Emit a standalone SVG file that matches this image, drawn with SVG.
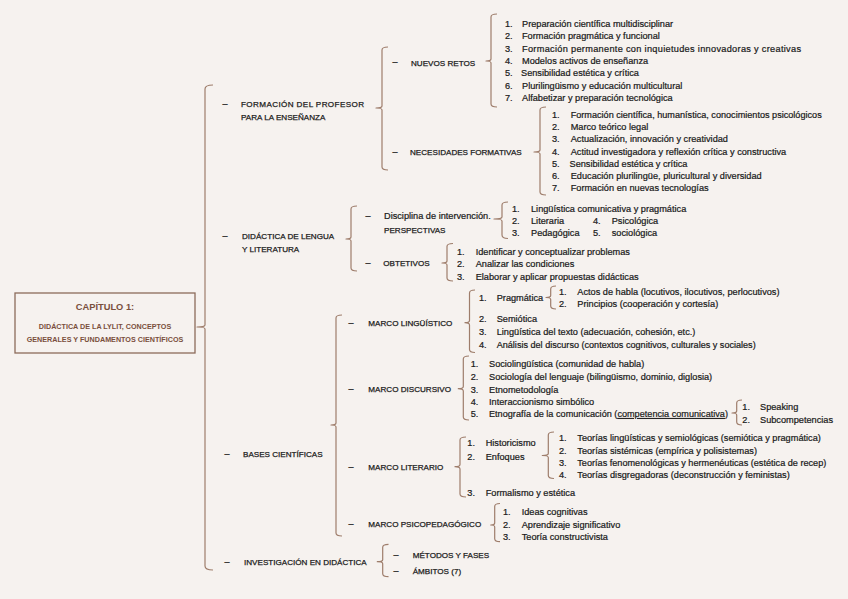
<svg xmlns="http://www.w3.org/2000/svg" width="848" height="599" viewBox="0 0 848 599">
<style>
.br{fill:none;stroke:#9e7d6b;stroke-width:1.2;stroke-linejoin:round}
text{font-family:"Liberation Sans",Arial,sans-serif;fill:#1a1a1a}
.t{font-size:9.2px;stroke:#1a1a1a;stroke-width:0.22}
.u{font-size:8.1px;stroke:#1a1a1a;stroke-width:0.25}
.d{font-size:9px;stroke:#1a1a1a;stroke-width:0.2}
.bx{fill:none;stroke:#8c6b5a;stroke-width:1.3}
.bt{fill:#7a4f3c;font-weight:bold;text-anchor:middle}
</style>
<rect x="0" y="0" width="848" height="599" fill="#f6f2ef"/>

<g id="connectors">
<path class="br" d="M213,85 Q205,85 205,89 V325 Q205,327 197,327 Q205,327 205,329 V566 Q205,570 213,570"/>
<path class="br" d="M388,47 Q382,47 382,50 V106 Q382,108 376,108 Q382,108 382,110 V167 Q382,170 388,170"/>
<path class="br" d="M497,14 Q491,14 491,17 V59 Q491,61 486,61 Q491,61 491,63 V104 Q491,107 497,107"/>
<path class="br" d="M546,107 Q540,107 540,110 V150 Q540,152 534,152 Q540,152 540,154 V192 Q540,195 546,195"/>
<path class="br" d="M357,206 Q351,206 351,209 V237 Q351,239 346,239 Q351,239 351,241 V268 Q351,271 357,271"/>
<path class="br" d="M508,202 Q502,202 502,205 V217 Q502,219 494,219 Q502,219 502,221 V235 Q502,238.5 508,238.5"/>
<path class="br" d="M453,243.5 Q447,243.5 447,246.5 V261 Q447,263 442,263 Q447,263 447,265 V278 Q447,281 453,281"/>
<path class="br" d="M342,315 Q336,315 336,318 V423 Q336,425 331,425 Q336,425 336,427 V533 Q336,536 342,536"/>
<path class="br" d="M475,290 Q469.5,290 469.5,293 V320.5 Q469.5,322.7 465,322.7 Q469.5,322.7 469.5,325 V349.5 Q469.5,352.5 475,352.5"/>
<path class="br" d="M556,286 Q550.7,286 550.7,289 V295.5 Q550.7,297.5 546,297.5 Q550.7,297.5 550.7,299.5 V306 Q550.7,309 556,309"/>
<path class="br" d="M469,356 Q463.3,356 463.3,359 V386.5 Q463.3,388.7 458.3,388.7 Q463.3,388.7 463.3,391 V417 Q463.3,420 469,420"/>
<path class="br" d="M742,400 Q736.7,400 736.7,403 V411 Q736.7,413 732,413 Q736.7,413 736.7,415 V422 Q736.7,425 742,425"/>
<path class="br" d="M466,437 Q460,437 460,440 V464.5 Q460,466.7 455,466.7 Q460,466.7 460,469 V494 Q460,497 466,497"/>
<path class="br" d="M554,432 Q548.3,432 548.3,435 V453.5 Q548.3,455.5 542.3,455.5 Q548.3,455.5 548.3,457.5 V475.5 Q548.3,478.5 554,478.5"/>
<path class="br" d="M500,503.5 Q494.7,503.5 494.7,506.5 V523 Q494.7,525 490.7,525 Q494.7,525 494.7,527 V538.7 Q494.7,541.7 500,541.7"/>
<path class="br" d="M388.5,544.3 Q382.7,544.3 382.7,547.3 V559.7 Q382.7,561.7 377.3,561.7 Q382.7,561.7 382.7,563.7 V573.7 Q382.7,576.7 388.5,576.7"/>
</g>

<g id="capitulo">
<rect class="bx" x="15" y="293" width="180" height="60"/>
<text class="bt" x="105" y="309.5" font-size="9.3px">CAPÍTULO 1:</text>
<text class="bt" x="105" y="329" font-size="7.2px">DIDÁCTICA DE LA LYLIT, CONCEPTOS</text>
<text class="bt" x="105" y="341.5" font-size="7.2px">GENERALES Y FUNDAMENTOS CIENTÍFICOS</text>
</g>

<g id="formacion">
<text class="d" x="222.5" y="106.5">–</text>
<text class="u" x="241" y="107" textLength="123" lengthAdjust="spacing">FORMACIÓN DEL PROFESOR</text>
<text class="u" x="241" y="120">PARA LA ENSEÑANZA</text>
</g>
<g id="nuevos-retos">
<text class="d" x="392.5" y="65">–</text>
<text class="u" x="411" y="65.5">NUEVOS RETOS</text>
</g>
<g id="nuevos-retos-lista">
<text class="t" x="505" y="26.5">1.</text><text class="t" x="522" y="26.5">Preparación científica multidisciplinar</text>
<text class="t" x="505" y="38.5">2.</text><text class="t" x="522" y="38.5">Formación pragmática y funcional</text>
<text class="t" x="505" y="51.5">3.</text><text class="t" x="522" y="51.5" textLength="279" lengthAdjust="spacing">Formación permanente con inquietudes innovadoras y creativas</text>
<text class="t" x="505" y="64">4.</text><text class="t" x="522" y="64">Modelos activos de enseñanza</text>
<text class="t" x="505" y="76">5.</text><text class="t" x="521" y="76">Sensibilidad estética y crítica</text>
<text class="t" x="505" y="88.5">6.</text><text class="t" x="522" y="88.5">Plurilingüismo y educación multicultural</text>
<text class="t" x="505" y="101">7.</text><text class="t" x="522" y="101">Alfabetizar y preparación tecnológica</text>
</g>
<g id="necesidades">
<text class="d" x="392.5" y="155">–</text>
<text class="u" x="410" y="155">NECESIDADES FORMATIVAS</text>
</g>
<g id="necesidades-lista">
<text class="t" x="552" y="118">1.</text><text class="t" x="570.7" y="118" textLength="251" lengthAdjust="spacingAndGlyphs">Formación científica, humanística, conocimientos psicológicos</text>
<text class="t" x="552" y="130">2.</text><text class="t" x="570.7" y="130">Marco teórico legal</text>
<text class="t" x="552" y="142">3.</text><text class="t" x="570.7" y="142">Actualización, innovación y creatividad</text>
<text class="t" x="552" y="155">4.</text><text class="t" x="570.7" y="155">Actitud investigadora y reflexión crítica y constructiva</text>
<text class="t" x="552" y="167">5.</text><text class="t" x="569.5" y="167">Sensibilidad estética y crítica</text>
<text class="t" x="552" y="179">6.</text><text class="t" x="570.7" y="179">Educación plurilingüe, pluricultural y diversidad</text>
<text class="t" x="552" y="191">7.</text><text class="t" x="570.7" y="191">Formación en nuevas tecnologías</text>
</g>

<g id="didactica">
<text class="d" x="222.5" y="238.5">–</text>
<text class="u" x="242" y="239">DIDÁCTICA DE LENGUA</text>
<text class="u" x="242" y="252">Y LITERATURA</text>
</g>
<g id="disciplina">
<text class="d" x="365.5" y="218.5">–</text>
<text class="t" x="384" y="219">Disciplina de  intervención.</text>
<text class="u" x="384" y="232.5">PERSPECTIVAS</text>
</g>
<g id="perspectivas-lista">
<text class="t" x="512" y="211.5">1.</text><text class="t" x="531" y="211.5">Lingüística comunicativa y pragmática</text>
<text class="t" x="512" y="223.5">2.</text><text class="t" x="531" y="223.5">Literaria</text>
<text class="t" x="512" y="236">3.</text><text class="t" x="531" y="236">Pedagógica</text>
<text class="t" x="593" y="223.5">4.</text><text class="t" x="611.7" y="223.5">Psicológica</text>
<text class="t" x="593" y="235.5">5.</text><text class="t" x="611.7" y="235.5">sociológica</text>
</g>
<g id="objetivos">
<text class="d" x="365.5" y="266">–</text>
<text class="u" x="383.3" y="266.3">OBTETIVOS</text>
</g>
<g id="objetivos-lista">
<text class="t" x="457" y="254.5">1.</text><text class="t" x="475.7" y="254.5">Identificar y conceptualizar problemas</text>
<text class="t" x="457" y="266.5">2.</text><text class="t" x="475.7" y="266.5">Analizar las condiciones</text>
<text class="t" x="457" y="280">3.</text><text class="t" x="475.7" y="280">Elaborar y aplicar propuestas didácticas</text>
</g>

<g id="bases">
<text class="d" x="224.5" y="456.5">–</text>
<text class="u" x="243" y="457">BASES CIENTÍFICAS</text>
</g>
<g id="marco-linguistico">
<text class="d" x="348.5" y="325.5">–</text>
<text class="u" x="368.3" y="325.7">MARCO LINGÜÍSTICO</text>
</g>
<g id="linguistico-lista">
<text class="t" x="479" y="300.7">1.</text><text class="t" x="496.7" y="300.7">Pragmática</text>
<text class="t" x="479" y="322.3">2.</text><text class="t" x="496.7" y="322.3">Semiótica</text>
<text class="t" x="479" y="335">3.</text><text class="t" x="496.7" y="335">Lingüística del texto (adecuación, cohesión, etc.)</text>
<text class="t" x="479" y="347.7">4.</text><text class="t" x="496.7" y="347.7" textLength="259" lengthAdjust="spacingAndGlyphs">Análisis del discurso (contextos cognitivos, culturales y sociales)</text>
</g>
<g id="pragmatica-lista">
<text class="t" x="559" y="294.7">1.</text><text class="t" x="577.3" y="294.7">Actos de habla (locutivos, ilocutivos, perlocutivos)</text>
<text class="t" x="559" y="307">2.</text><text class="t" x="577.3" y="307">Principios (cooperación y cortesía)</text>
</g>
<g id="marco-discursivo">
<text class="d" x="348.5" y="391.5">–</text>
<text class="u" x="368.3" y="391.7">MARCO DISCURSIVO</text>
</g>
<g id="discursivo-lista">
<text class="t" x="470.7" y="367.3">1.</text><text class="t" x="489" y="367.3">Sociolingüística (comunidad de habla)</text>
<text class="t" x="470.7" y="380">2.</text><text class="t" x="489" y="380">Sociología del lenguaje (bilingüismo, dominio, diglosia)</text>
<text class="t" x="470.7" y="392.5">3.</text><text class="t" x="489" y="392.5">Etnometodología</text>
<text class="t" x="470.7" y="404.7">4.</text><text class="t" x="489" y="404.7">Interaccionismo simbólico</text>
<text class="t" x="470.7" y="417">5.</text><text class="t" x="489" y="417" textLength="239" lengthAdjust="spacingAndGlyphs">Etnografía de la comunicación (<tspan text-decoration="underline">competencia comunicativa</tspan>)</text>
</g>
<g id="etnografia-lista">
<text class="t" x="742.3" y="410.3">1.</text><text class="t" x="760" y="410.3">Speaking</text>
<text class="t" x="742.3" y="423">2.</text><text class="t" x="760" y="423">Subcompetencias</text>
</g>
<g id="marco-literario">
<text class="d" x="348.5" y="469.5">–</text>
<text class="u" x="368.3" y="469.7">MARCO LITERARIO</text>
</g>
<g id="literario-lista">
<text class="t" x="467.3" y="446.3">1.</text><text class="t" x="485.7" y="446.3">Historicismo</text>
<text class="t" x="467.3" y="459.7">2.</text><text class="t" x="485.7" y="459.7">Enfoques</text>
<text class="t" x="467.3" y="496.3">3.</text><text class="t" x="485.7" y="496.3">Formalismo y estética</text>
</g>
<g id="enfoques-lista">
<text class="t" x="559" y="440.7">1.</text><text class="t" x="577.3" y="440.7">Teorías lingüísticas y semiológicas (semiótica y pragmática)</text>
<text class="t" x="559" y="454">2.</text><text class="t" x="577.3" y="454">Teorías sistémicas (empírica y polisistemas)</text>
<text class="t" x="559" y="465.7">3.</text><text class="t" x="577.3" y="465.7" textLength="249" lengthAdjust="spacingAndGlyphs">Teorías fenomenológicas y hermenéuticas (estética de recep)</text>
<text class="t" x="559" y="478">4.</text><text class="t" x="577.3" y="478">Teorías disgregadoras (deconstrucción y feministas)</text>
</g>
<g id="marco-psicopedagogico">
<text class="d" x="348.5" y="527">–</text>
<text class="u" x="368.3" y="527.3">MARCO PSICOPEDAGÓGICO</text>
</g>
<g id="psicopedagogico-lista">
<text class="t" x="503" y="515.3">1.</text><text class="t" x="521.7" y="515.3">Ideas cognitivas</text>
<text class="t" x="503" y="528">2.</text><text class="t" x="521.7" y="528">Aprendizaje significativo</text>
<text class="t" x="503" y="540">3.</text><text class="t" x="521.7" y="540">Teoría constructivista</text>
</g>

<g id="investigacion">
<text class="d" x="224.5" y="564.5">–</text>
<text class="u" x="244" y="565">INVESTIGACIÓN EN DIDÁCTICA</text>
</g>
<g id="metodos">
<text class="d" x="393.5" y="557.5">–</text>
<text class="u" x="412.7" y="558">MÉTODOS Y FASES</text>
</g>
<g id="ambitos">
<text class="d" x="393.5" y="573.5">–</text>
<text class="u" x="412.7" y="573.7">ÁMBITOS (7)</text>
</g>
</svg>
